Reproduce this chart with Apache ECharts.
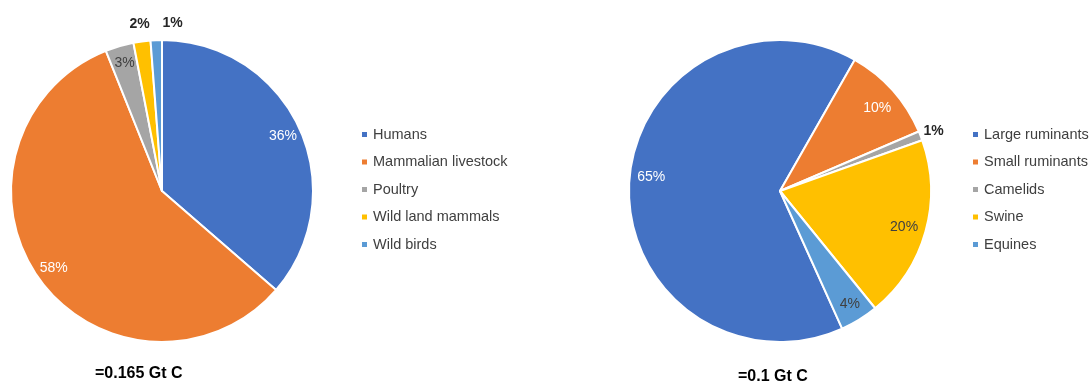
<!DOCTYPE html>
<html>
<head>
<meta charset="utf-8">
<title>Biomass pies</title>
<script src="https://cdn.jsdelivr.net/npm/echarts@6/dist/echarts.min.js"></script>
<style>
  html, body { margin: 0; padding: 0; background: #fff; }
  #chart { width: 1090px; height: 385px; }
</style>
</head>
<body>
<div id="chart"></div>
<script>
// 左侧饼图数据 (Gt C)
const leftNames = ['Humans', 'Mammalian livestock', 'Poultry', 'Wild land mammals', 'Wild birds']
const leftValues = [0.06, 0.095, 0.005, 0.003, 0.002]
const leftTotal = '=0.165 Gt C'

// 右侧饼图数据 (%)
const rightNames = ['Large ruminants', 'Small ruminants', 'Camelids', 'Swine', 'Equines']
const rightValues = [65, 10.3, 1, 19.6, 4.1]
const rightTotal = '=0.1 Gt C'

const colors = ['#4472C4', '#ED7D31', '#A5A5A5', '#FFC000', '#5B9BD5']

// 标签位置: 'in' 扇区内, 'out' 扇区外
const leftLabelPos = ['in', 'in', 'in', 'out', 'out']
const rightLabelPos = ['in', 'in', 'out', 'in', 'in']
const darkText = [false, false, true, true, true]

const leftCenter = [162, 191]
const rightCenter = [780, 191]
const rightStart = -65.7
const R = 151

const chart = echarts.init(document.getElementById('chart'))

const buildData = (names, values) => names.map((n, i) => ({ name: n, value: values[i] }))

// 标签专用透明环
const labelRing = (names, values, center, start, radius, posList, which) => ({
  type: 'pie',
  silent: true,
  center: center,
  radius: radius,
  startAngle: start,
  percentPrecision: 0,
  itemStyle: { color: 'transparent', borderWidth: 0 },
  labelLine: { show: false },
  emphasis: { disabled: true },
  data: names.map((n, i) => ({
    name: n,
    value: values[i],
    label: {
      show: posList[i] === which,
      position: 'inside',
      formatter: '{d}%',
      fontFamily: 'Liberation Sans',
      fontSize: 14,
      fontWeight: which === 'in' ? 'normal' : 'bold',
      color: which === 'out' ? '#262626' : (darkText[i] ? '#404040' : '#ffffff')
    }
  }))
})

const mainPie = (names, values, center, start) => ({
  type: 'pie',
  center: center,
  radius: [0, R],
  startAngle: start,
  percentPrecision: 0,
  itemStyle: { borderColor: '#ffffff', borderWidth: 2 },
  label: { show: false },
  labelLine: { show: false },
  data: buildData(names, values)
})

const legendStyle = {
  orient: 'vertical',
  icon: 'rect',
  padding: 0,
  itemWidth: 7,
  itemHeight: 7,
  itemGap: 12.5,
  textStyle: { fontFamily: 'Liberation Sans', fontSize: 14.5, color: '#404040', lineHeight: 15 }
}

const titleStyle = { fontFamily: 'Liberation Sans', fontSize: 16, fontWeight: 'bold', color: '#000' }

const option = {
  animation: false,
  color: colors,
  title: [
    { text: leftTotal, left: 95, top: 366, padding: 0, textStyle: titleStyle },
    { text: rightTotal, left: 738, top: 369, padding: 0, textStyle: titleStyle }
  ],
  legend: [
    Object.assign({ data: leftNames, left: 360, top: 127 }, legendStyle),
    Object.assign({ data: rightNames, left: 971, top: 127 }, legendStyle)
  ],
  series: [
    mainPie(leftNames, leftValues, leftCenter, 90),
    mainPie(rightNames, rightValues, rightCenter, rightStart),
    labelRing(leftNames, leftValues, leftCenter, 90, [109, R], leftLabelPos, 'in'),
    labelRing(leftNames, leftValues, leftCenter, 90, [155, 175], leftLabelPos, 'out'),
    labelRing(rightNames, rightValues, rightCenter, rightStart, [109, R], rightLabelPos, 'in'),
    labelRing(rightNames, rightValues, rightCenter, rightStart, [152, 172], rightLabelPos, 'out')
  ]
}

// 左侧 1% 标签向右挪一点
option.series[3].labelLayout = function (params) {
  return params.dataIndex === 4 ? { dx: 17 } : {}
}
// 右侧 65% / 10% 标签微调
option.series[4].labelLayout = function (params) {
  if (params.dataIndex === 0) return { dx: 4, dy: -8 }
  if (params.dataIndex === 1) return { dx: -2, dy: 6 }
  if (params.dataIndex === 3) return { dx: -4 }
  return {}
}

chart.setOption(option)
</script>
</body>
</html>
